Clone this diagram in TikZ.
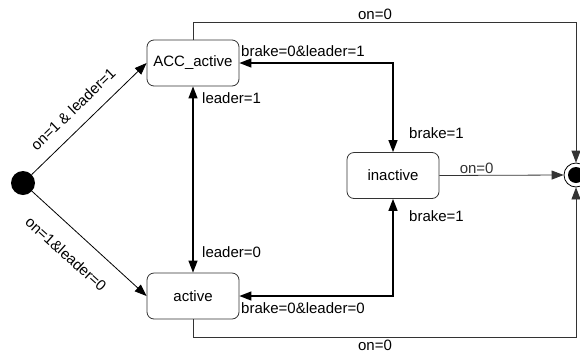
\documentclass[tikz,border=0pt]{standalone}
\usepackage{fontspec}
\setmainfont{Liberation Sans}
\usetikzlibrary{arrows.meta}
\begin{document}
\begin{tikzpicture}[x=1pt,y=-1pt,
  state/.style={draw=black!80, line width=0.8pt, rounded corners=7pt,
    minimum width=92pt, minimum height=46pt, inner sep=0pt,
    font=\fontsize{15}{17}\selectfont},
  lbl/.style={font=\fontsize{15}{17}\selectfont, inner sep=1pt},
  tip/.style={-{Triangle[length=12pt,width=9pt]}},
  both/.style={{Triangle[length=12pt,width=9pt]}-{Triangle[length=12pt,width=9pt]}},
  thick1/.style={line width=1.3pt, black},
  thin1/.style={line width=0.8pt, black!80},
]
\useasboundingbox (0,0) rectangle (580,354);

% states
\node[state] (acc) at (193,63) {ACC\_active};
\node[state] (act) at (193,296) {active};
\node[state] (inact) at (393,175.5) {inactive};

% initial and final pseudo-states
\node[circle, fill=black, minimum size=24pt, inner sep=0pt] (init) at (23,183) {};
\node[circle, draw=black, line width=0.8pt, fill=white, minimum size=24pt, inner sep=0pt] (fin) at (576,175) {};
\node[circle, fill=black, minimum size=16pt, inner sep=0pt] (finc) at (fin) {};

% corner points of the routed transitions
\coordinate (ctop) at (576,22);
\coordinate (cbot) at (576,337);

% initial transitions
\draw[thin1, black, tip] (init) -- (acc.west);
\node[lbl, rotate=44] (g1) at (73,109) {on=1 \& leader=1};
\draw[thin1, black, tip] (init) -- (act.west);
\node[lbl, rotate=-42] (g0) at (66,254) {on=1\&leader=0};

% ACC_active <-> active
\draw[thick1, both] (acc.south) -- (act.north);
\node[lbl, anchor=west] (l1) at (201,98) {leader=1};
\node[lbl, anchor=west] (l0) at (201,252) {leader=0};

% ACC_active <-> inactive
\draw[thick1, both] (acc.east) -| (inact.north);
\node[lbl, anchor=west] (b01) at (240,51) {brake=0\&leader=1};
\node[lbl, anchor=west] (b1u) at (408,133) {brake=1};

% active <-> inactive
\draw[thick1, both] (act.east) -| (inact.south);
\node[lbl, anchor=west] (b00) at (240,308) {brake=0\&leader=0};
\node[lbl, anchor=west] (b1d) at (408,216) {brake=1};

% transitions to the final state
\draw[thin1, tip] (inact.east) -- node[lbl, above, pos=0.3] {on=0} (fin.west);
\draw[thin1, tip] (acc.north) |- (ctop) -- (fin.north);
\node[lbl] (t0) at (375,14) {on=0};
\draw[thin1, tip] (act.south) |- (cbot) -- (fin.south);
\node[lbl] (b0) at (375,345) {on=0};
\end{tikzpicture}
\end{document}
